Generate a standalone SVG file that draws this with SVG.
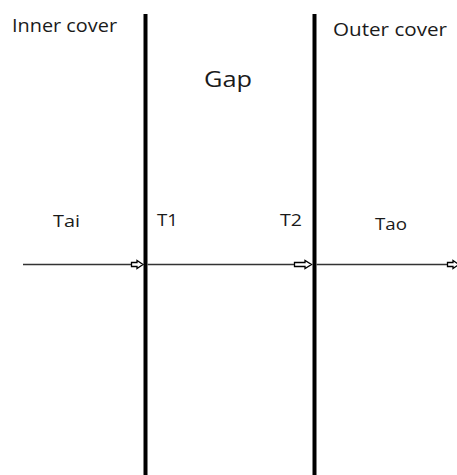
<svg xmlns="http://www.w3.org/2000/svg" width="457" height="475" viewBox="0 0 457 475">
<style>
.lbl{font-family:"Open Sans","Liberation Sans",sans-serif;fill:#1a1a1a}
.wall{stroke:#000;stroke-width:4}
.ln{stroke:#333;stroke-width:1.3;fill:none}
.ah{fill:#fff;stroke:#000;stroke-width:1.3}
</style>
<rect width="457" height="475" fill="#fff"/>
<g id="inner-cover">
<line class="wall" x1="145.5" y1="14" x2="145.5" y2="475"/>
<text class="lbl" x="12" y="32" font-size="18.5" textLength="105" lengthAdjust="spacingAndGlyphs">Inner cover</text>
</g>
<g id="outer-cover">
<line class="wall" x1="314.5" y1="14" x2="314.5" y2="475"/>
<text class="lbl" x="333" y="36" font-size="18.5" textLength="114" lengthAdjust="spacingAndGlyphs">Outer cover</text>
</g>
<g id="gap">
<text class="lbl" x="204" y="87" font-size="22" textLength="48" lengthAdjust="spacingAndGlyphs">Gap</text>
</g>
<g id="labels">
<text class="lbl" x="53" y="227" font-size="17" textLength="27" lengthAdjust="spacingAndGlyphs">Tai</text>
<text class="lbl" x="157" y="226" font-size="17" textLength="21" lengthAdjust="spacingAndGlyphs">T1</text>
<text class="lbl" x="280" y="226" font-size="17" textLength="22" lengthAdjust="spacingAndGlyphs">T2</text>
<text class="lbl" x="375" y="230" font-size="17" textLength="32" lengthAdjust="spacingAndGlyphs">Tao</text>
</g>
<g id="connectors">
<line class="ln" x1="23" y1="264.5" x2="131" y2="264.5"/>
<path class="ah" d="M131.5,262.5 H137 V260.5 L143,264.5 L137,268.5 V266.5 H131.5 Z"/>
<line class="ln" x1="147.5" y1="264.5" x2="294" y2="264.5"/>
<path class="ah" d="M294.5,262.5 H305 V260.5 L311.5,264.5 L305,268.5 V266.5 H294.5 Z"/>
<line class="ln" x1="316.5" y1="264.5" x2="447" y2="264.5"/>
<path class="ah" d="M447.5,262.5 H453 V260.5 L459,264.5 L453,268.5 V266.5 H447.5 Z"/>
</g>
</svg>
